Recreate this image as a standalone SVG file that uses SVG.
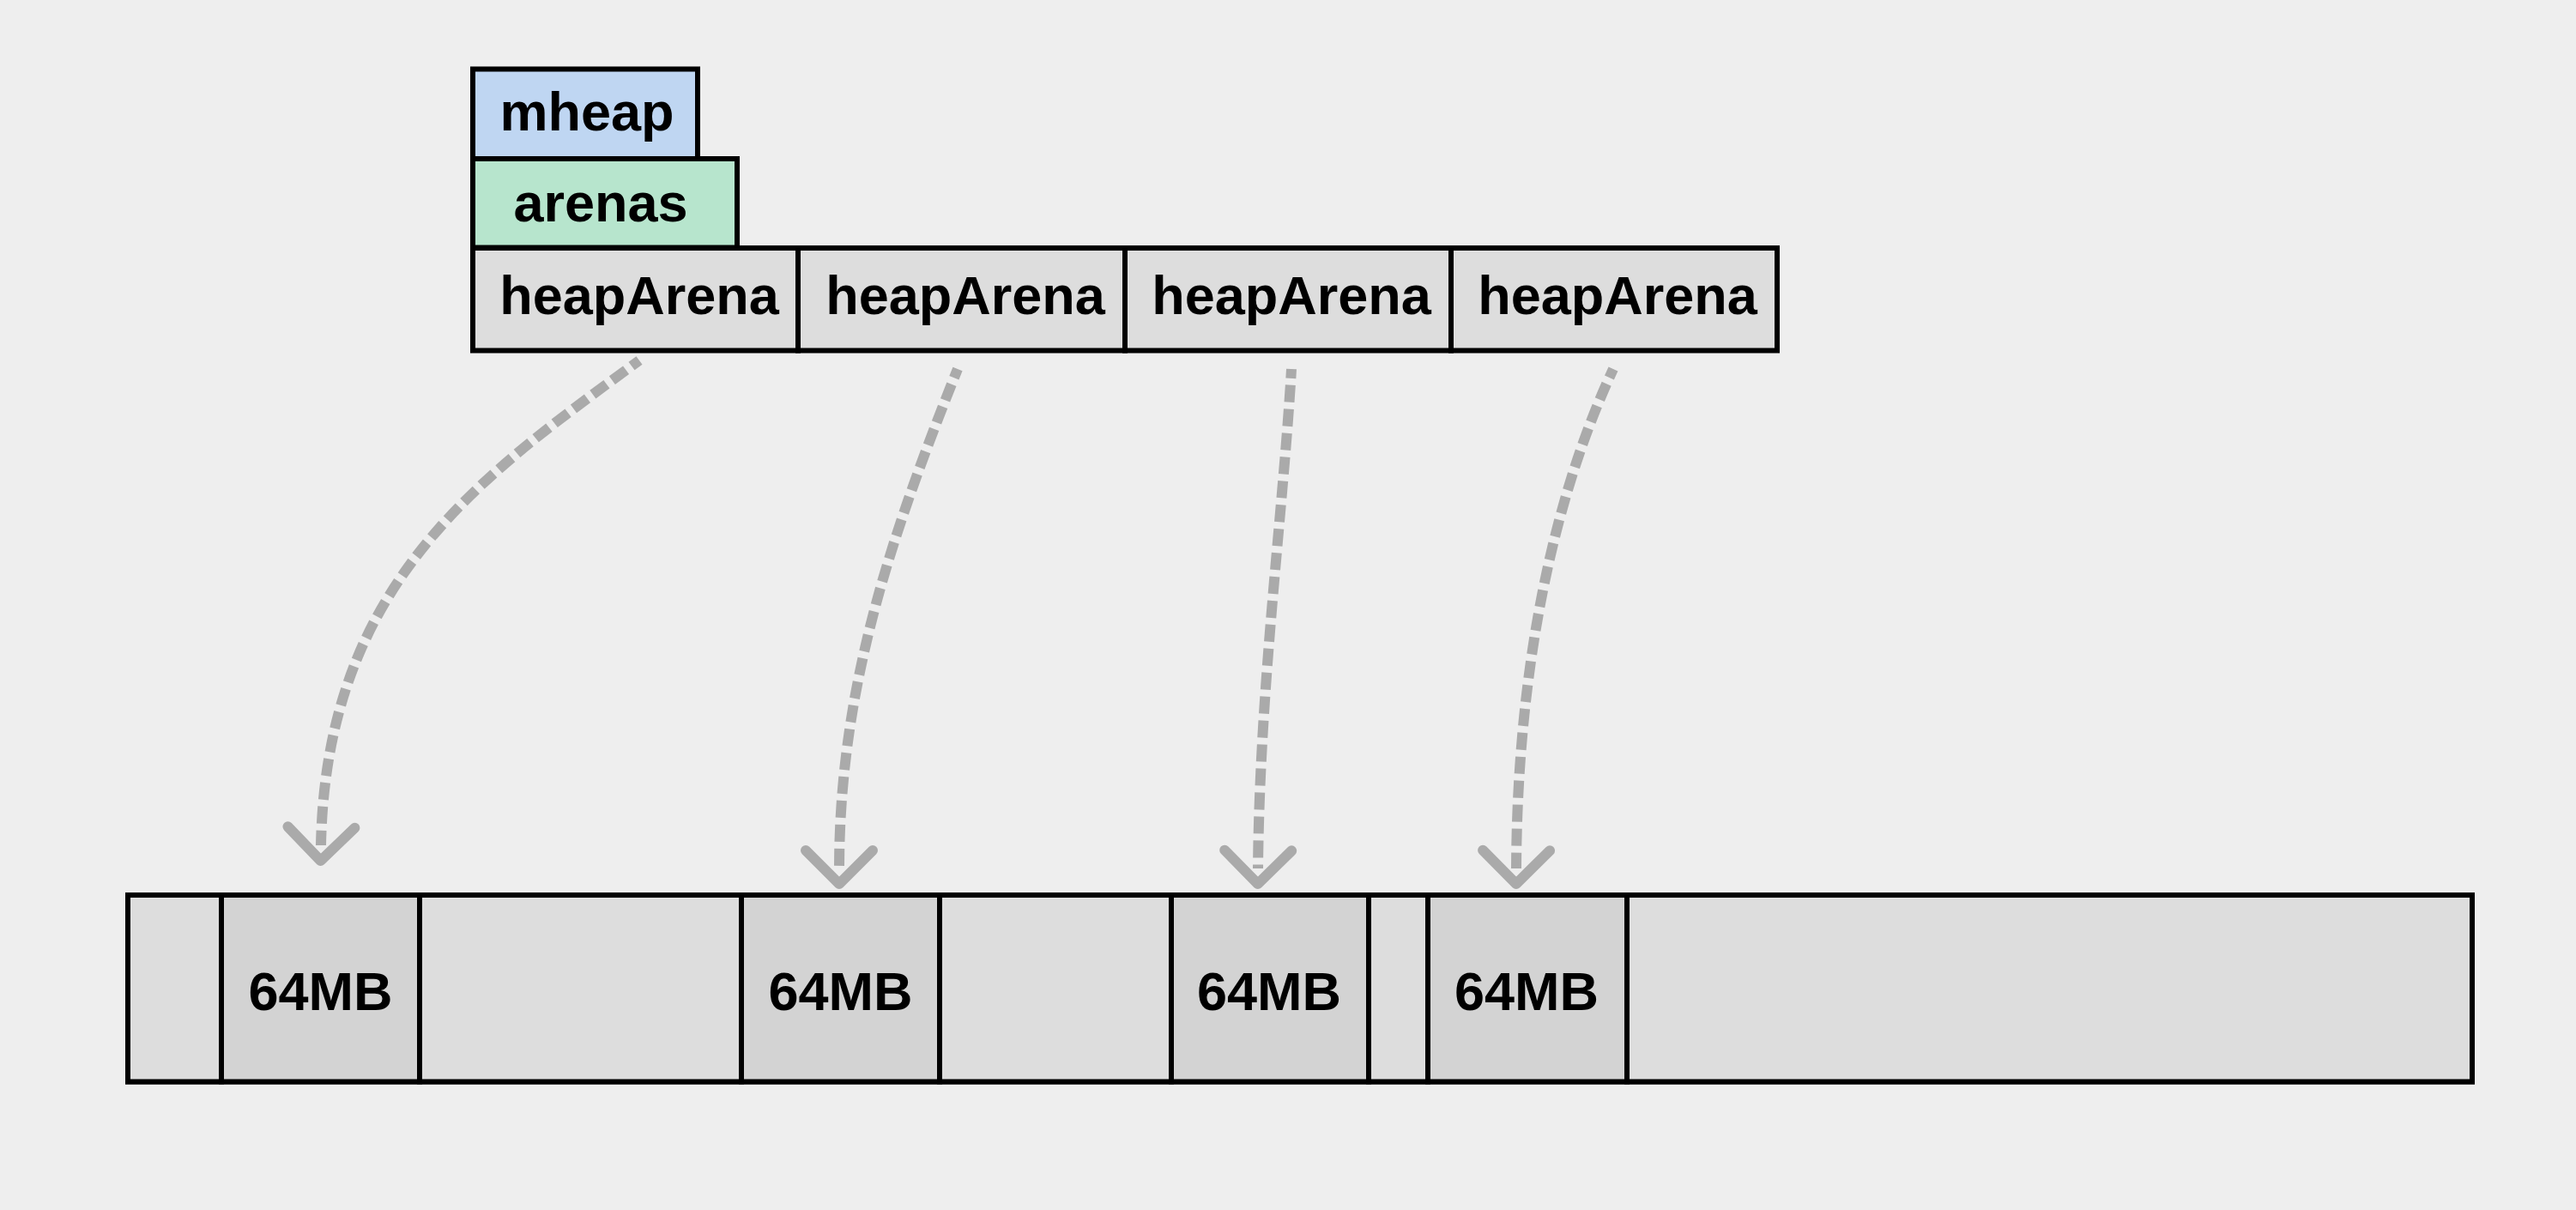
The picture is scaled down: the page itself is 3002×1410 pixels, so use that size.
<svg xmlns="http://www.w3.org/2000/svg" width="3002" height="1410" viewBox="0 0 3002 1410">
  <style>
    .box { stroke: #000000; stroke-width: 6; }
    .lbl { font-family: "Liberation Sans", Arial, sans-serif; font-weight: bold; font-size: 63px; fill: #000000; text-anchor: middle; }
    .free { fill: #dddddd; }
    .used { fill: #d3d3d3; }
    .conn { fill: none; stroke: #aaaaaa; stroke-width: 12; stroke-dasharray: 20 8; stroke-dashoffset: 9; }
  </style>
  <defs>
    <marker id="chev" markerUnits="userSpaceOnUse" orient="auto" refX="0" refY="0" markerWidth="120" markerHeight="120" viewBox="-60 -60 120 120" overflow="visible">
      <path d="M-21,-39 L18,0 L-21,39" fill="none" stroke="#aaaaaa" stroke-width="12" stroke-linecap="round" stroke-linejoin="round"/>
    </marker>
  </defs>
  <rect x="0" y="0" width="3002" height="1410" fill="#eeeeee"/>

  <g id="mheap">
    <rect class="box" x="551" y="80.5" width="262" height="104.5" fill="#bfd6f2"/>
    <text class="lbl" x="684" y="152">mheap</text>
  </g>
  <g id="arenas">
    <rect class="box" x="551" y="185" width="308" height="103.5" fill="#b7e5cd"/>
    <text class="lbl" x="700" y="258">arenas</text>
  </g>
  <g id="heapArena1">
    <rect class="box free" x="551" y="289" width="379" height="119.5"/>
    <text class="lbl" x="745" y="366">heapArena</text>
  </g>
  <g id="heapArena2">
    <rect class="box free" x="930" y="289" width="381" height="119.5"/>
    <text class="lbl" x="1125" y="366">heapArena</text>
  </g>
  <g id="heapArena3">
    <rect class="box free" x="1311" y="289" width="380" height="119.5"/>
    <text class="lbl" x="1505" y="366">heapArena</text>
  </g>
  <g id="heapArena4">
    <rect class="box free" x="1691" y="289" width="380" height="119.5"/>
    <text class="lbl" x="1885" y="366">heapArena</text>
  </g>

  <g id="memory">
    <rect class="box free" x="149" y="1043" width="2732" height="217.5"/>
    <g id="gap0"><rect class="box free" x="149" y="1043" width="109" height="217.5"/></g>
    <g id="block1">
      <rect class="box used" x="258" y="1043" width="231" height="217.5"/>
      <text class="lbl" x="373.5" y="1177">64MB</text>
    </g>
    <g id="gap1"><rect class="box free" x="489" y="1043" width="375" height="217.5"/></g>
    <g id="block2">
      <rect class="box used" x="864" y="1043" width="231" height="217.5"/>
      <text class="lbl" x="979.5" y="1177">64MB</text>
    </g>
    <g id="gap2"><rect class="box free" x="1095" y="1043" width="270" height="217.5"/></g>
    <g id="block3">
      <rect class="box used" x="1365" y="1043" width="230" height="217.5"/>
      <text class="lbl" x="1479" y="1177">64MB</text>
    </g>
    <g id="gap3"><rect class="box free" x="1595" y="1043" width="69" height="217.5"/></g>
    <g id="block4">
      <rect class="box used" x="1664" y="1043" width="232" height="217.5"/>
      <text class="lbl" x="1779" y="1177">64MB</text>
    </g>
    <g id="gap4"><rect class="box free" x="1896" y="1043" width="985" height="217.5"/></g>
  </g>

  <g id="connectors">
    <path class="conn" d="M745,420 C560,555 380,680 374,985" marker-end="url(#chev)"/>
    <path class="conn" d="M1116,430 C1040,620 978,800 978,1012" marker-end="url(#chev)"/>
    <path class="conn" d="M1505,430 C1495,600 1468,800 1466,1012" marker-end="url(#chev)"/>
    <path class="conn" d="M1880,430 C1810,580 1768,780 1767,1012" marker-end="url(#chev)"/>
  </g>
</svg>
